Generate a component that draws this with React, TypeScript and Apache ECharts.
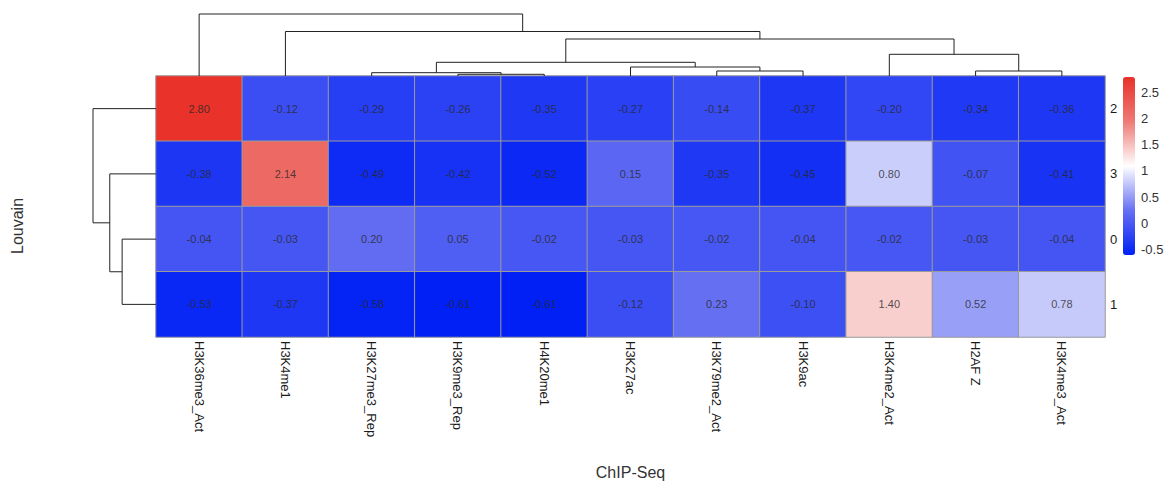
import React, { useEffect, useRef } from "react";
import * as echarts from "echarts";

// ---- data ----
const marks = [
  "H3K36me3_Act", "H3K4me1", "H3K27me3_Rep", "H3K9me3_Rep", "H4K20me1",
  "H3K27ac", "H3K79me2_Act", "H3K9ac", "H3K4me2_Act", "H2AF Z", "H3K4me3_Act",
];
const clusters = ["2", "3", "0", "1"];
const cluster2 = [2.80, -0.12, -0.29, -0.26, -0.35, -0.27, -0.14, -0.37, -0.20, -0.34, -0.36];
const cluster3 = [-0.38, 2.14, -0.49, -0.42, -0.52, 0.15, -0.35, -0.45, 0.80, -0.07, -0.41];
const cluster0 = [-0.04, -0.03, 0.20, 0.05, -0.02, -0.03, -0.02, -0.04, -0.02, -0.03, -0.04];
const cluster1 = [-0.53, -0.37, -0.58, -0.61, -0.61, -0.12, 0.23, -0.10, 1.40, 0.52, 0.78];
const rows = [cluster2, cluster3, cluster0, cluster1];
const colorTicks = [-0.5, 0, 0.5, 1, 1.5, 2, 2.5];
const scaleMin = -0.61;
const scaleMax = 2.80;

// dendrogram merges: [childA, childB, height]; "L#" = leaf index, "N#" = earlier merge
const columnMerges: [string, string, number][] = [
  ["L3", "L4", 1.7],
  ["L2", "N0", 3.3],
  ["L6", "L7", 5],
  ["L5", "N2", 9],
  ["N1", "N3", 13.7],
  ["L9", "L10", 5],
  ["L8", "N5", 21.7],
  ["N4", "N6", 37],
  ["L1", "N7", 44.5],
  ["L0", "N8", 62],
];
const rowMerges: [string, string, number][] = [
  ["L2", "L3", 33.7],
  ["L1", "N0", 46],
  ["L0", "N1", 62.7],
];

function buildDendro(merges: [string, string, number][]) {
  const pos: Record<string, number> = {};
  const hgt: Record<string, number> = {};
  const get = (id: string) =>
    id[0] === "L" ? [Number(id.slice(1)) + 0.5, 0] : [pos[id], hgt[id]];
  return merges.map(([a, b, h], k) => {
    const [pa, ha] = get(a);
    const [pb, hb] = get(b);
    pos["N" + k] = (pa + pb) / 2;
    hgt["N" + k] = h;
    return [pa, pb, h, ha, hb];
  });
}

const FONT = "'Liberation Sans', Arial, sans-serif";

export default function App() {
  const ref = useRef<HTMLDivElement>(null);
  useEffect(() => {
    if (!ref.current) return;
    const chart = echarts.init(ref.current, undefined, { renderer: "svg" });
    const heatData: number[][] = [];
    rows.forEach((r, yi) => r.forEach((v, xi) => heatData.push([xi, yi, v])));
    const topSegs = buildDendro(columnMerges);
    const leftSegs = buildDendro(rowMerges);
    const lineStyle = { stroke: "#222", lineWidth: 1, fill: "none" };

    chart.setOption({
      animation: false,
      backgroundColor: "#fff",
      textStyle: { fontFamily: FONT },
      grid: [
        { left: 156, top: 76, width: 949, height: 261 },
        { left: 156, top: 14, width: 949, height: 62 },
        { left: 93, top: 76, width: 63, height: 261 },
        { left: 1130, top: 77, width: 5, height: 178 },
      ],
      xAxis: [
        {
          gridIndex: 0,
          type: "category",
          data: marks,
          position: "bottom",
          axisLine: { show: false },
          axisTick: { show: false },
          splitLine: { show: false },
          axisLabel: { rotate: -90, fontSize: 13, color: "#1a1a1a", margin: 4, interval: 0 },
          name: "ChIP-Seq",
          nameLocation: "middle",
          nameGap: 127,
          nameTextStyle: { fontSize: 16, color: "#333" },
        },
        { gridIndex: 1, type: "value", min: 0, max: 11, show: false },
        { gridIndex: 2, type: "value", min: 0, max: 62.7, inverse: true, show: false },
        { gridIndex: 3, type: "value", show: false },
      ],
      yAxis: [
        {
          gridIndex: 0,
          type: "category",
          data: clusters,
          inverse: true,
          position: "right",
          axisLine: { show: false },
          axisTick: { show: false },
          splitLine: { show: false },
          axisLabel: { fontSize: 13, color: "#1a1a1a", margin: 5 },
        },
        { gridIndex: 1, type: "value", min: 0, max: 62, show: false },
        { gridIndex: 2, type: "value", min: 0, max: 4, inverse: true, show: false },
        {
          gridIndex: 3,
          type: "value",
          position: "right",
          min: scaleMin,
          max: scaleMax,
          axisLine: { show: false },
          axisTick: { show: false },
          splitLine: { show: false },
          axisLabel: {
            customValues: colorTicks,
            fontSize: 13,
            color: "#333",
            margin: 6,
            formatter: (v: number) => String(v),
          },
        },
      ],
      visualMap: {
        type: "continuous",
        min: scaleMin,
        max: scaleMax,
        seriesIndex: 0,
        left: 1123,
        top: 77,
        itemWidth: 12,
        itemHeight: 178,
        padding: 0,
        calculable: false,
        showLabel: false,
        inRange: { color: ["#0020f5", "#6670f2", "#ffffff", "#ee7a75", "#e8322a"] },
      },
      graphic: [
        {
          type: "text",
          x: 17,
          y: 226,
          rotation: Math.PI / 2,
          style: {
            text: "Louvain",
            fontSize: 16,
            fill: "#333",
            fontFamily: FONT,
            align: "center",
            verticalAlign: "middle",
          },
        },
      ],
      series: [
        {
          type: "heatmap",
          xAxisIndex: 0,
          yAxisIndex: 0,
          data: heatData,
          itemStyle: { borderColor: "#9a9a9a", borderWidth: 1 },
          label: {
            show: true,
            fontSize: 11,
            color: "rgba(40,40,40,0.8)",
            formatter: (p: any) => Number(p.value[2]).toFixed(2),
          },
          emphasis: { disabled: true },
        },
        {
          type: "custom",
          xAxisIndex: 1,
          yAxisIndex: 1,
          data: topSegs,
          encode: { x: [0, 1], y: [2, 3, 4] },
          clip: false,
          renderItem: (_p: any, api: any) => {
            const pa = api.value(0), pb = api.value(1), h = api.value(2);
            const ha = api.value(3), hb = api.value(4);
            return {
              type: "polyline",
              shape: {
                points: [api.coord([pa, ha]), api.coord([pa, h]), api.coord([pb, h]), api.coord([pb, hb])],
              },
              style: lineStyle,
            };
          },
        },
        {
          type: "custom",
          xAxisIndex: 2,
          yAxisIndex: 2,
          data: leftSegs,
          encode: { x: [2, 3, 4], y: [0, 1] },
          clip: false,
          renderItem: (_p: any, api: any) => {
            const pa = api.value(0), pb = api.value(1), h = api.value(2);
            const ha = api.value(3), hb = api.value(4);
            return {
              type: "polyline",
              shape: {
                points: [api.coord([ha, pa]), api.coord([h, pa]), api.coord([h, pb]), api.coord([hb, pb])],
              },
              style: lineStyle,
            };
          },
        },
      ],
    });
    return () => chart.dispose();
  }, []);
  return (
    <div
      ref={ref}
      style={{ position: "fixed", left: 0, top: 0, width: 1173, height: 485 }}
    />
  );
}
